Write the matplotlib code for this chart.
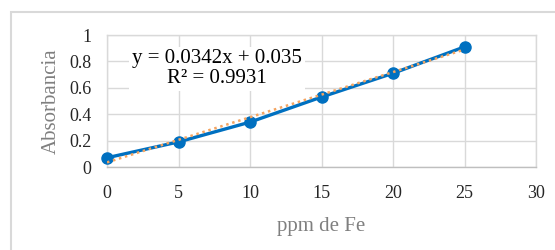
import matplotlib
matplotlib.use('Agg')
import matplotlib.pyplot as plt
from matplotlib.patches import Rectangle
import numpy as np

# concentracion de Fe (ppm) y absorbancia medida
ppm = [0, 5, 10, 15, 20, 25]
absorb = [0.07, 0.19, 0.34, 0.53, 0.71, 0.91]
slope, intercept = 0.0342, 0.035
eq_text = 'y = 0.0342x + 0.035\nR\u00b2 = 0.9931'

plt.rcParams['font.family'] = ['Liberation Serif', 'DejaVu Serif']

fig = plt.figure(figsize=(5.55, 2.5), dpi=100)
# chart area border
fig.patches.append(Rectangle((11/555, -0.1), 1.2, 1 - 12/250 + 0.1,
                             transform=fig.transFigure, fill=False,
                             edgecolor='#d9d9d9', linewidth=1.5))
ax = fig.add_axes([107/555, 1 - 167/250, 429/555, 132/250])

grid_c = '#d9d9d9'
ax.set_xlim(0, 30)
ax.set_ylim(0, 1)
ax.set_xticks(np.arange(0, 31, 5))
ax.set_yticks([0, 0.2, 0.4, 0.6, 0.8, 1])
ax.set_yticklabels(['0', '0.2', '0.4', '0.6', '0.8', '1'])
ax.grid(True, color=grid_c, linewidth=1)
for s in ax.spines.values():
    s.set_color(grid_c)
    s.set_linewidth(1)
ax.spines['bottom'].set_color('#bfbfbf')
ax.tick_params(length=0, labelsize=13, colors='#262626')
ax.tick_params(axis='y', pad=11)
ax.tick_params(axis='x', pad=13)

ax.plot(ppm, absorb, color='#0070c0', linewidth=2.4, marker='o',
        markersize=8, zorder=3, clip_on=False)
xf = np.array([ppm[0], ppm[-1]])
ax.plot(xf, slope * xf + intercept, color='#f4a460', linestyle=(0, (1, 1.5)),
        linewidth=1.8, zorder=4)

ax.text(7.7, 0.745, eq_text, ha='center', va='center', fontsize=15,
        color='#000000', linespacing=1.05,
        bbox=dict(facecolor='white', edgecolor='none', pad=2))

ax.set_xlabel('ppm de Fe', fontsize=15, color='#7f7f7f', labelpad=11)
ax.set_ylabel('Absorbancia', fontsize=15, color='#7f7f7f', labelpad=6)

fig.savefig('out.png', dpi=100)
